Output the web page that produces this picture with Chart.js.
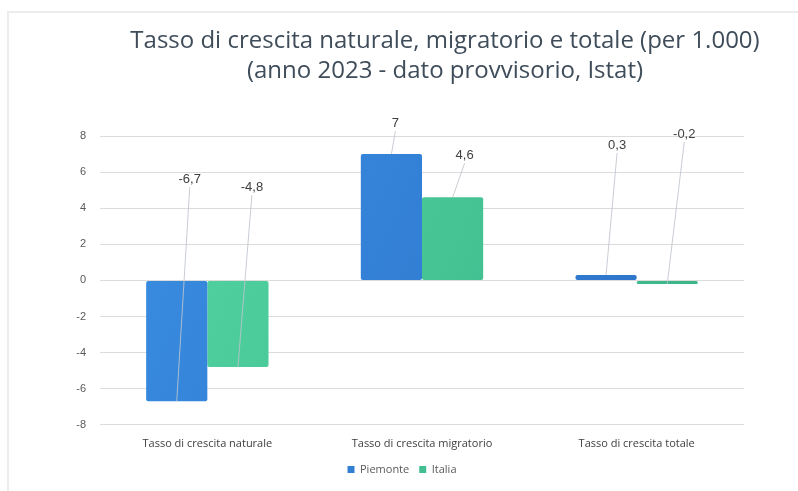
<!DOCTYPE html>
<html>
<head>
<meta charset="utf-8">
<script src="https://cdn.jsdelivr.net/npm/chart.js@4"></script>
<style>
  html, body { margin: 0; padding: 0; background: #fff; }
  #wrap { position: relative; width: 798px; height: 491px; overflow: hidden; }
  #frame { position: absolute; left: 7px; top: 11px; width: 820px; height: 500px;
           border-top: 2px solid #ececec; border-left: 2px solid #ececec; }
  canvas { position: absolute; left: 0; top: 0; }
</style>
</head>
<body>
<div id="wrap">
  <div id="frame"></div>
  <canvas id="chart" width="798" height="491"></canvas>
</div>
<script>
// Chart data
const categories = ['Tasso di crescita naturale', 'Tasso di crescita migratorio', 'Tasso di crescita totale'];
const piemonte = [-6.7, 7, 0.3];
const italia = [-4.8, 4.6, -0.2];
const seriesNames = ['Piemonte', 'Italia'];
const titleLines = [
    'Tasso di crescita naturale, migratorio e totale (per 1.000)',
    '(anno 2023 - dato provvisorio, Istat)'
];
const yMin = -8, yMax = 8, yStep = 2;

// Offsets (px) of each callout label from the end of its bar
const calloutOffsets = [
    [[13, -222], [4, -31], [11, -130]],
    [[14, -180], [12, -42], [17, -150]]
];

function fmt(v) {
    return String(v).replace('.', ',');
}

function barGradient(top, bottom) {
    return (ctx) => {
        const area = ctx.chart.chartArea;
        if (!area) return top;
        const g = ctx.chart.ctx.createLinearGradient(area.left, area.top, area.right, area.bottom);
        g.addColorStop(0, top);
        g.addColorStop(1, bottom);
        return g;
    };
}

// Two-line title drawn above the plot
const titlePlugin = {
    id: 'twoLineTitle',
    afterDraw(chart) {
        const c = chart.ctx;
        c.save();
        c.fillStyle = '#3f4c5a';
        c.font = '24px "Open Sans", sans-serif';
        c.textAlign = 'center';
        c.textBaseline = 'alphabetic';
        const cx = 445;
        [48, 78].forEach((y, i) => {
            c.fillText(titleLines[i], cx, y);
        });
        c.restore();
    }
};

// Callout labels with leader lines
const calloutPlugin = {
    id: 'callouts',
    afterDatasetsDraw(chart) {
        const c = chart.ctx;
        c.save();
        chart.data.datasets.forEach((ds, di) => {
            const meta = chart.getDatasetMeta(di);
            meta.data.forEach((bar, i) => {
                const [dx, dy] = calloutOffsets[di][i];
                const x0 = bar.x, y0 = bar.y;
                const lx = x0 + dx, ly = y0 + dy;
                c.strokeStyle = 'rgba(190,196,204,0.85)';
                c.lineWidth = 1;
                c.beginPath();
                c.moveTo(lx, ly + 8);
                c.lineTo(x0, y0);
                c.stroke();
                c.fillStyle = '#404040';
                c.font = '13px "Liberation Sans", Arial, sans-serif';
                c.textAlign = 'center';
                c.textBaseline = 'middle';
                c.fillText(fmt(ds.data[i]), lx, ly);
            });
        });
        c.restore();
    }
};

new Chart(document.getElementById('chart'), {
    type: 'bar',
    data: {
        labels: categories,
        datasets: [{
            label: seriesNames[0],
            data: piemonte,
            backgroundColor: barGradient('#3a8fe4', '#2a6fc4'),
            borderRadius: 2,
            borderSkipped: false
        }, {
            label: seriesNames[1],
            data: italia,
            backgroundColor: barGradient('#56d8a6', '#36b083'),
            borderRadius: 2,
            borderSkipped: false
        }]
    },
    options: {
        responsive: false,
        animation: false,
        categoryPercentage: 0.57,
        barPercentage: 1,
        layout: { padding: { top: 136, left: 60, right: 54, bottom: 6 } },
        scales: {
            x: {
                grid: { display: false },
                border: { display: false },
                ticks: {
                    color: '#404040',
                    padding: 4,
                    font: { family: '"Open Sans", sans-serif', size: 11 }
                }
            },
            y: {
                min: yMin,
                max: yMax,
                afterFit(scale) { scale.width = 40; },
                grid: { color: '#dcdcdc', drawTicks: false },
                border: { display: false },
                ticks: {
                    stepSize: yStep,
                    padding: 14,
                    color: '#595959',
                    font: { family: '"Liberation Sans", Arial, sans-serif', size: 11 }
                }
            }
        },
        plugins: {
            legend: {
                position: 'bottom',
                labels: {
                    boxWidth: 7,
                    boxHeight: 7,
                    padding: 10,
                    color: '#595959',
                    font: { family: '"Open Sans", sans-serif', size: 11 }
                }
            },
            tooltip: { enabled: false }
        }
    },
    plugins: [titlePlugin, calloutPlugin]
});
</script>
</body>
</html>
